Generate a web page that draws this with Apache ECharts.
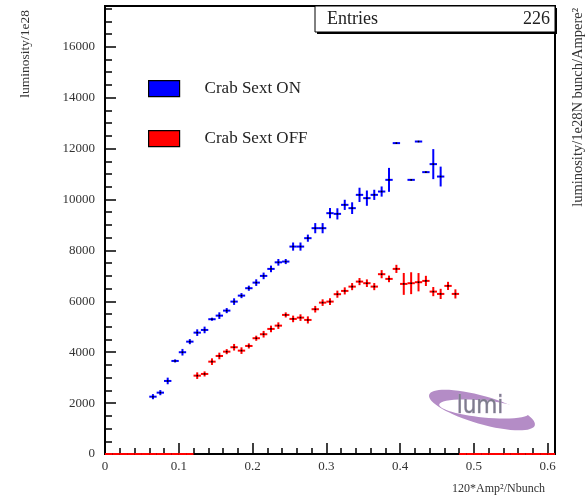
<!DOCTYPE html>
<html><head><meta charset="utf-8">
<script src="https://cdn.jsdelivr.net/npm/echarts@6/dist/echarts.min.js"></script>
<style>html,body{margin:0;padding:0;background:#fff}#c{width:588px;height:495px}</style>
</head><body><div id="c"></div>
<script>
// ---- data (TProfile bins, width 0.01) ----
const binWidth = 0.01;
const onX = [0.065,0.075,0.085,0.095,0.105,0.115,0.125,0.135,0.145,0.155,0.165,0.175,0.185,0.195,0.205,0.215,0.225,0.235,0.245,0.255,0.265,0.275,0.285,0.295,0.305,0.315,0.325,0.335,0.345,0.355,0.365,0.375,0.385,0.395,0.415,0.425,0.435,0.445,0.455];
const onY = [2252,2410,2870,3656,3998,4414,4768,4874,5295,5436,5633,5987,6222,6513,6733,6997,7272,7530,7560,8149,8149,8479,8872,8872,9461,9434,9788,9658,10181,10051,10181,10311,10770,12213,10770,12276,11073,11388,10900];
const onErr = [100,100,130,60,130,100,130,130,60,130,100,130,100,100,130,130,130,130,100,160,160,140,200,200,200,220,200,230,280,300,200,200,470,0,0,0,0,590,390];
const offX = [0.125,0.135,0.145,0.155,0.165,0.175,0.185,0.195,0.205,0.215,0.225,0.235,0.245,0.255,0.265,0.275,0.285,0.295,0.305,0.315,0.325,0.335,0.345,0.355,0.365,0.375,0.385,0.395,0.405,0.415,0.425,0.435,0.445,0.455,0.465,0.475];
const offY = [3078,3145,3628,3852,4021,4194,4061,4245,4548,4705,4914,5043,5464,5307,5358,5267,5688,5947,5987,6278,6407,6576,6773,6710,6576,7064,6879,7272,6682,6710,6749,6800,6380,6289,6604,6289];
const offErr = [130,100,130,130,100,130,130,100,100,130,130,130,100,130,130,140,130,130,130,140,140,140,140,150,140,160,130,160,430,430,360,200,180,200,160,180];
const xTickLabels = ['0','0.1','0.2','0.3','0.4','0.5','0.6'];
const yTickLabels = ['0','2000','4000','6000','8000','10000','12000','14000','16000'];
const entries = 226;
const xRange = [0, 0.61];
const yRange = [0, 17600];

// empty bins of the OFF profile are drawn at zero
const nBins = Math.round(xRange[1] / binWidth);
const offEmpty = [];
for (let i = 0; i < nBins; i++) {
  const c = +(binWidth * i + binWidth / 2).toFixed(3);
  if (!offX.some(v => Math.abs(v - c) < 1e-6)) offEmpty.push([c, 0, 0]);
}

const onData = onX.map((x, i) => [x, onY[i], onErr[i]]);
const offData = offX.map((x, i) => [x, offY[i], offErr[i]]).concat(offEmpty);

function renderErr(params, api) {
  const x = api.value(0), y = api.value(1), e = api.value(2);
  const color = api.visual('color');
  const pL = api.coord([x - binWidth / 2, y]);
  const pR = api.coord([Math.min(x + binWidth / 2, xRange[1]), y]);
  const children = [{type: 'line', shape: {x1: pL[0], y1: pL[1], x2: pR[0], y2: pR[1]}, style: {stroke: color, lineWidth: 2}}];
  if (e > 0) {
    const pT = api.coord([x, y + e]);
    const pB = api.coord([x, y - e]);
    children.push({type: 'line', shape: {x1: pT[0], y1: pT[1], x2: pB[0], y2: pB[1]}, style: {stroke: color, lineWidth: 2}});
  }
  if (y > 0) {
    const p = api.coord([x, y]);
    children.push({type: 'rect', shape: {x: p[0] - 0.8, y: p[1] - 0.8, width: 1.6, height: 1.6}, style: {fill: '#000'}});
  }
  return {type: 'group', children};
}

const serif = '"Liberation Serif", "DejaVu Serif", serif';
const chart = echarts.init(document.getElementById('c'), null, {renderer: 'canvas'});
chart.setOption({
  animation: false,
  backgroundColor: '#fff',
  grid: {left: 105, top: 6, width: 450, height: 448, show: true, borderColor: '#000', borderWidth: 2, backgroundColor: 'transparent'},
  xAxis: {
    type: 'value', min: xRange[0], max: xRange[1], interval: 0.1,
    axisLine: {show: true, lineStyle: {color: '#000', width: 2}},
    axisTick: {show: true, inside: true, length: 11, lineStyle: {color: '#000', width: 1.5}},
    minorTick: {show: true, splitNumber: 5, length: 6, lineStyle: {color: '#000', width: 1.5}},
    splitLine: {show: false},
    axisLabel: {
      margin: 6, color: '#333', fontFamily: serif, fontSize: 13,
      formatter: v => { const k = Math.round(v * 10); return Math.abs(v * 10 - k) < 1e-6 ? xTickLabels[k] : ''; }
    }
  },
  yAxis: {
    type: 'value', min: yRange[0], max: yRange[1], interval: 2000,
    axisLine: {show: true, lineStyle: {color: '#000', width: 2}},
    axisTick: {show: true, inside: true, length: 11, lineStyle: {color: '#000', width: 1.5}},
    minorTick: {show: true, splitNumber: 4, length: 7, lineStyle: {color: '#000', width: 1.5}},
    splitLine: {show: false},
    axisLabel: {
      margin: 10, color: '#333', fontFamily: serif, fontSize: 13,
      formatter: v => { const k = Math.round(v / 2000); return Math.abs(v / 2000 - k) < 1e-6 ? yTickLabels[k] : ''; }
    }
  },
  legend: [
    {data: ['Crab Sext ON'], left: 148, top: 80, padding: 0, itemWidth: 31, itemHeight: 16, icon: 'rect',
     itemStyle: {borderColor: '#000', borderWidth: 1.2},
     textStyle: {fontFamily: serif, fontSize: 17, color: '#222', padding: [0, 0, 0, 20]}},
    {data: ['Crab Sext OFF'], left: 148, top: 130, padding: 0, itemWidth: 31, itemHeight: 16, icon: 'rect',
     itemStyle: {borderColor: '#000', borderWidth: 1.2},
     textStyle: {fontFamily: serif, fontSize: 17, color: '#222', padding: [0, 0, 0, 20]}}
  ],
  series: [
    {name: 'Crab Sext ON', type: 'custom', renderItem: renderErr, data: onData, itemStyle: {color: '#0000ff'}, encode: {x: 0, y: 1}, clip: true, z: 3},
    {name: 'Crab Sext OFF', type: 'custom', renderItem: renderErr, data: offData, itemStyle: {color: '#ff0000'}, encode: {x: 0, y: 1}, clip: false, z: 4}
  ],
  graphic: [
    // stats box
    {type: 'rect', shape: {x: 317, y: 8, width: 240, height: 26}, style: {fill: '#000'}, z: 10},
    {type: 'rect', shape: {x: 315, y: 6, width: 240, height: 26}, style: {fill: '#fff', stroke: '#000', lineWidth: 1}, z: 11},
    {type: 'text', x: 327, y: 19, style: {text: 'Entries', font: '18px ' + serif, fill: '#222', verticalAlign: 'middle', align: 'left'}, z: 12},
    {type: 'text', x: 550, y: 19, style: {text: String(entries), font: '18px ' + serif, fill: '#222', verticalAlign: 'middle', align: 'right'}, z: 12},
    // axis titles
    {type: 'text', x: 25, y: 10, rotation: Math.PI / 2, style: {text: 'luminosity/1e28', font: '13.5px ' + serif, fill: '#333', align: 'right', verticalAlign: 'middle'}},
    {type: 'text', x: 578, y: 8, rotation: Math.PI / 2, style: {text: 'luminosity/1e28N bunch/Ampere²', font: '14.5px ' + serif, fill: '#333', align: 'right', verticalAlign: 'middle'}},
    {type: 'text', x: 545, y: 489, style: {text: '120*Amp²/Nbunch', font: '12px ' + serif, fill: '#333', align: 'right', verticalAlign: 'middle'}},
    // lumi logo (swoosh)
    {type: 'ellipse', x: 482, y: 410, rotation: -0.28, shape: {cx: 0, cy: 0, rx: 55, ry: 14}, style: {fill: '#b48cc6'}, z: 1},
    {type: 'ellipse', x: 484, y: 409, rotation: -0.1, shape: {cx: 0, cy: 0, rx: 45, ry: 8.5}, style: {fill: '#fff'}, z: 1},
    {type: 'text', x: 480, y: 407, style: {text: 'lumi', font: '24px "DejaVu Sans Condensed", "DejaVu Sans", sans-serif', fill: '#7d7d8c', stroke: '#b9a5c8', lineWidth: 0.6, align: 'center', verticalAlign: 'middle'}, z: 2}
  ]
});
</script></body></html>
